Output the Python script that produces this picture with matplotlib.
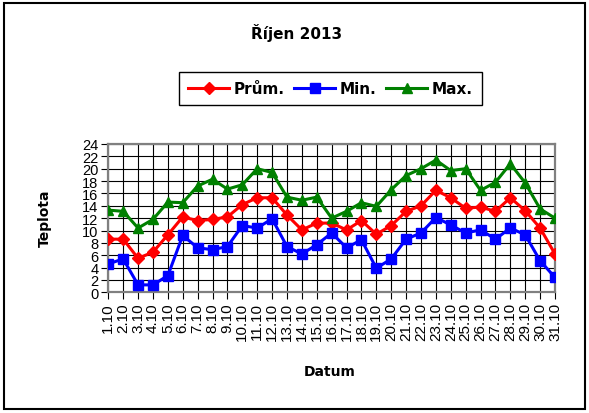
import numpy as np
import matplotlib
matplotlib.use("Agg")
import matplotlib.pyplot as plt
from matplotlib.patches import Rectangle

# data (October 2013, daily temperatures)
days = [f"{d}.10" for d in range(1, 32)]
prum = [8.6, 8.6, 5.5, 6.5, 9.3, 12.2, 11.6, 11.8, 12.2, 14.2, 15.3, 15.3, 12.5, 10.1, 11.2,
        11.2, 10.1, 11.6, 9.4, 10.8, 13.1, 14.0, 16.5, 15.3, 13.6, 13.8, 13.1, 15.3, 13.2, 10.4, 6.2]
tmin = [4.6, 5.4, 1.2, 1.2, 2.7, 9.2, 7.2, 6.9, 7.4, 10.8, 10.4, 11.9, 7.4, 6.2, 7.7,
        9.6, 7.2, 8.5, 3.9, 5.4, 8.6, 9.6, 12.1, 10.9, 9.6, 10.1, 8.6, 10.4, 9.3, 5.1, 2.4]
tmax = [13.3, 13.1, 10.4, 11.8, 14.6, 14.5, 17.2, 18.3, 16.7, 17.4, 20.0, 19.4, 15.4, 14.9, 15.4,
        12.0, 13.1, 14.5, 13.9, 16.6, 18.9, 20.0, 21.4, 19.7, 20.0, 16.5, 17.8, 20.8, 17.7, 13.5, 12.0]

plt.rcParams['font.family'] = ['DejaVu Sans']

W, H = 589, 414
fig = plt.figure(figsize=(W / 100, H / 100), dpi=100)
ax = fig.add_axes([108.3 / W, 1 - 293.3 / H, (555 - 108.3) / W, (293.3 - 145) / H])

x = np.arange(len(days))
ax.plot(x, prum, color='#ff0000', lw=2.2, marker='D', ms=6, label='Prům.', zorder=3)
ax.plot(x, tmin, color='#0000ff', lw=2.2, marker='s', ms=6.5, label='Min.', zorder=3)
ax.plot(x, tmax, color='#008000', lw=2.2, marker='^', ms=7.5, label='Max.', zorder=3)

ax.set_xlim(0, len(days) - 1)
ax.set_ylim(0, 24)
ax.set_yticks(np.arange(0, 25, 2))
ax.set_xticks(x)
ax.set_xticklabels(days, rotation=90, family='Liberation Sans', fontsize=11)
for t in ax.get_yticklabels():
    t.set_family('Liberation Sans')
    t.set_fontsize(10.5)
ax.tick_params(axis='both', direction='out', length=5, width=0.8, color='black', pad=2)
ax.grid(True, color='black', lw=0.8)
ax.set_axisbelow(True)
for s in ax.spines.values():
    s.set_color('#808080')
    s.set_linewidth(1.6)

fig.text(297 / W, 1 - 33 / H, 'Říjen 2013', ha='center', va='center', fontsize=11, fontweight='bold')
fig.text(45 / W, 1 - 218 / H, 'Teplota', ha='center', va='center', rotation=90, fontsize=10, fontweight='bold')
fig.text(330 / W, 1 - 372 / H, 'Datum', ha='center', va='center', fontsize=10, fontweight='bold')

leg = fig.legend(loc='center', bbox_to_anchor=(330.5 / W, 1 - 89.5 / H), ncol=3, fontsize=11,
                 handlelength=2.7, columnspacing=0.6, handletextpad=0.3, fancybox=False,
                 framealpha=1, edgecolor='black', borderpad=0.6)
for t in leg.get_texts():
    t.set_fontweight('bold')
leg.get_frame().set_linewidth(1.0)

fig.patches.append(Rectangle((4 / W, 4 / H), (585 - 4) / W, (410 - 4) / H, transform=fig.transFigure,
                             fill=False, edgecolor='black', lw=1.5))

fig.savefig('out.png', dpi=100)
